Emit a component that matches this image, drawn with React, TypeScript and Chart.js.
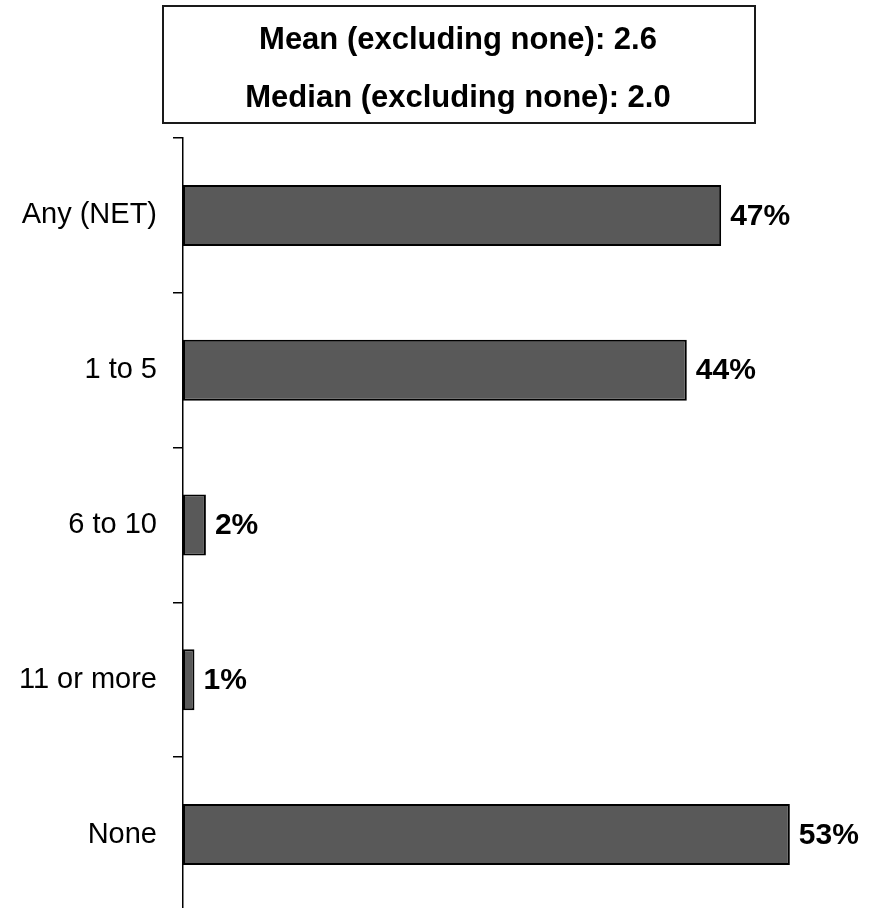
import React, { useEffect, useRef } from 'react';
import { Chart, registerables } from 'chart.js';

Chart.register(...registerables);

const categories = ['Any (NET)', '1 to 5', '6 to 10', '11 or more', 'None'];
const values = [47, 44, 2, 1, 53];
const summaryLines = ['Mean (excluding none): 2.6', 'Median (excluding none): 2.0'];
const valueSuffix = '%';

const FONT = '"Liberation Sans", Arial, Helvetica, sans-serif';

export default function App() {
  const ref = useRef<HTMLCanvasElement>(null);

  useEffect(() => {
    document.body.style.margin = '0';
    const canvas = ref.current;
    if (!canvas) return;

    const summaryBox = {
      id: 'summaryBox',
      afterDraw(chart: any) {
        const ctx = chart.ctx;
        ctx.save();
        ctx.fillStyle = '#ffffff';
        ctx.fillRect(163, 6, 592, 117);
        ctx.strokeStyle = '#1a1a1a';
        ctx.lineWidth = 2;
        ctx.strokeRect(163, 6, 592, 117);
        ctx.fillStyle = '#000000';
        ctx.font = `bold 31px ${FONT}`;
        ctx.textAlign = 'center';
        ctx.textBaseline = 'alphabetic';
        ctx.fillText(summaryLines[0], 458, 49);
        ctx.fillText(summaryLines[1], 458, 107);
        ctx.restore();
      },
    };

    const valueLabels = {
      id: 'valueLabels',
      afterDatasetsDraw(chart: any) {
        const ctx = chart.ctx;
        const meta = chart.getDatasetMeta(0);
        ctx.save();
        ctx.fillStyle = '#000000';
        ctx.font = `bold 30px ${FONT}`;
        ctx.textAlign = 'left';
        ctx.textBaseline = 'middle';
        meta.data.forEach((bar: any, i: number) => {
          ctx.fillText(`${values[i]}${valueSuffix}`, bar.x + 9, bar.y + 1);
        });
        ctx.restore();
      },
    };

    const chart = new Chart(canvas, {
      type: 'bar',
      data: {
        labels: categories,
        datasets: [
          {
            data: values,
            backgroundColor: '#595959',
            borderColor: '#000000',
            borderWidth: 2,
            borderSkipped: false,
            categoryPercentage: 1,
            barPercentage: 0.394,
          },
        ],
      },
      options: {
        indexAxis: 'y',
        responsive: false,
        animation: false,
        events: [],
        layout: { padding: { top: 138, bottom: 40, left: 0, right: 10 } },
        plugins: {
          legend: { display: false },
          tooltip: { enabled: false },
          title: { display: false },
        },
        scales: {
          x: {
            display: false,
            min: 0,
            max: 60,
          },
          y: {
            offset: true,
            afterFit(scale: any) {
              scale.width = 183;
            },
            border: { display: true, color: '#000000', width: 1.5 },
            grid: {
              offset: true,
              drawOnChartArea: false,
              drawTicks: true,
              tickLength: 10,
              color: '#000000',
              lineWidth: 1.5,
            },
            ticks: {
              color: '#000000',
              padding: 16,
              font: { family: FONT, size: 29 },
            },
          },
        },
      },
      plugins: [summaryBox, valueLabels],
    });

    return () => chart.destroy();
  }, []);

  return (
    <div style={{ position: 'relative', width: 880, height: 908, overflow: 'hidden', background: '#fff' }}>
      <canvas ref={ref} width={880} height={952} style={{ display: 'block' }} />
    </div>
  );
}
